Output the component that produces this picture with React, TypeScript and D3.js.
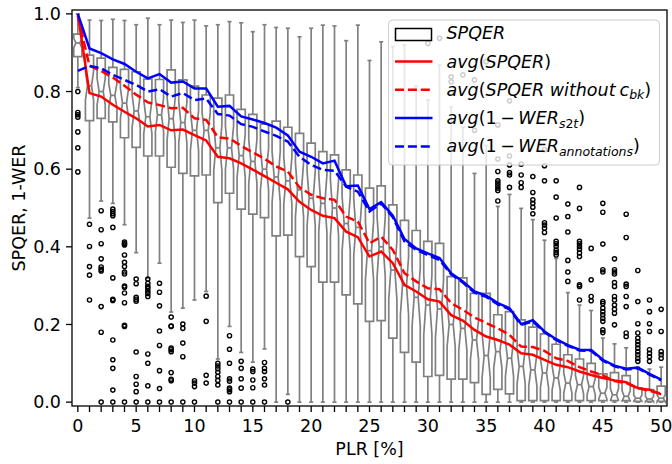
import React from 'react';
import * as d3 from 'd3';

// PLR categories 0..50
const categories: number[] = d3.range(0, 51);

const q3: number[] = [
  0.948, 0.894, 0.886, 0.862, 0.857, 0.851, 0.832, 0.831, 0.856, 0.830,
  0.814, 0.791, 0.783, 0.791, 0.754, 0.741, 0.716, 0.724, 0.708, 0.692,
  0.667, 0.645, 0.637, 0.598, 0.585, 0.551, 0.557, 0.508, 0.468, 0.442,
  0.414, 0.409, 0.323, 0.320, 0.280, 0.280, 0.225, 0.233, 0.212, 0.193,
  0.176, 0.149, 0.122, 0.111, 0.100, 0.073, 0.076, 0.068, 0.037, 0.032,
  0.041,
];
const q1: number[] = [
  0.890, 0.725, 0.731, 0.722, 0.681, 0.656, 0.634, 0.634, 0.605, 0.589,
  0.583, 0.585, 0.514, 0.538, 0.497, 0.484, 0.475, 0.428, 0.430, 0.375,
  0.349, 0.309, 0.309, 0.276, 0.253, 0.208, 0.210, 0.165, 0.128, 0.103,
  0.066, 0.069, 0.059, 0.059, 0.050, 0.020, 0.033, 0.021, 0.004, 0.004,
  0.004, 0.004, 0.004, 0.004, 0.004, 0.004, 0.004, 0.004, 0.002, 0.002,
  0.002,
];
const medians: number[] = [
  0.925, 0.815, 0.800, 0.790, 0.770, 0.750, 0.735, 0.740, 0.730, 0.720,
  0.700, 0.700, 0.655, 0.655, 0.635, 0.620, 0.600, 0.580, 0.570, 0.547,
  0.525, 0.512, 0.500, 0.460, 0.450, 0.390, 0.400, 0.340, 0.300, 0.270,
  0.250, 0.240, 0.200, 0.190, 0.160, 0.120, 0.130, 0.113, 0.092, 0.083,
  0.075, 0.062, 0.049, 0.045, 0.040, 0.023, 0.019, 0.015, 0.010, 0.008,
  0.010,
];
const whiskerLow: number[] = [
  0.810, 0.474, 0.518, 0.512, 0.457, 0.385, 0.319, 0.358, 0.232, 0.242,
  0.263, 0.285, 0.111, 0.195, 0.128, 0.103, 0.137, 0.0, 0.020, 0.0,
  0.0, 0.0, 0.0, 0.0, 0.0, 0.0, 0.0, 0.0, 0.0, 0.0,
  0.0, 0.0, 0.0, 0.0, 0.0, 0.0, 0.0, 0.0, 0.0, 0.0,
  0.0, 0.0, 0.0, 0.0, 0.0, 0.0, 0.0, 0.0, 0.0, 0.0,
  0.0,
];
const whiskerHigh: number[] = [
  1.000, 0.984, 0.983, 0.986, 0.983, 0.972, 0.989, 0.972, 0.984, 0.978,
  0.984, 0.969, 0.972, 0.980, 0.977, 0.954, 0.972, 0.965, 0.963, 0.941,
  0.963, 0.971, 0.969, 0.931, 0.971, 0.880, 0.928, 0.916, 0.920, 0.814,
  0.778, 0.868, 0.760, 0.708, 0.589, 0.661, 0.504, 0.535, 0.499, 0.470,
  0.417, 0.370, 0.282, 0.250, 0.236, 0.165, 0.150, 0.140, 0.090, 0.085,
  0.090,
];
const fliers: number[][] = [
  [0.800, 0.746, 0.740, 0.734, 0.696, 0.655, 0.593],
  [0.458, 0.401, 0.349, 0.327, 0.263],
  [0.493, 0.444, 0.408, 0.369, 0.348, 0.342, 0.338, 0.246, 0.180, 0.0],
  [0.497, 0.491, 0.485, 0.480, 0.450, 0.320, 0.265, 0.262, 0.160, 0.109, 0.087, 0.031, 0.0],
  [0.412, 0.408, 0.405, 0.379, 0.360, 0.349, 0.335, 0.330, 0.299, 0.296, 0.281, 0.256, 0.198, 0.195, 0.0],
  [0.317, 0.305, 0.270, 0.265, 0.260, 0.129, 0.066, 0.046, 0.027, 0.0],
  [0.317, 0.306, 0.298, 0.293, 0.286, 0.280, 0.272, 0.124, 0.100, 0.042, 0.0],
  [0.306, 0.283, 0.248, 0.183, 0.146, 0.081, 0.035, 0.0],
  [0.219, 0.196, 0.195, 0.139, 0.135, 0.130, 0.076, 0.059, 0.055, 0.0],
  [0.201, 0.190, 0.152, 0.117, 0.0],
  [0.055, 0.049, 0.040, 0.0],
  [0.273, 0.208, 0.069, 0.049],
  [0.100, 0.093, 0.086, 0.077, 0.066, 0.056, 0.044, 0.0],
  [0.171, 0.136, 0.100, 0.060, 0.054, 0.036, 0.032, 0.027, 0.0],
  [0.105, 0.087, 0.060, 0.036, 0.0],
  [0.085, 0.079, 0.057, 0.037, 0.0],
  [0.102, 0.087, 0.079, 0.060, 0.044, 0.0],
  [],
  [0.0],
  [], [], [], [], [], [], [], [], [], [], [],
  [0.924],
  [0.937],
  [0.838, 0.825, 0.796],
  [0.843],
  [0.830, 0.700],
  [0.877],
  [0.714, 0.626, 0.594, 0.570, 0.564, 0.557, 0.551, 0.545, 0.518],
  [0.776, 0.634, 0.611, 0.591, 0.585, 0.553],
  [0.613, 0.585, 0.565, 0.553],
  [0.581, 0.540, 0.521, 0.512, 0.502, 0.485],
  [0.650, 0.609, 0.570, 0.462, 0.456, 0.448, 0.437],
  [0.570, 0.528, 0.474, 0.414, 0.408, 0.401, 0.392, 0.385, 0.379],
  [0.510, 0.478, 0.438, 0.365, 0.335, 0.311],
  [0.553, 0.499, 0.414, 0.408, 0.401, 0.394, 0.384, 0.375, 0.302, 0.298, 0.263],
  [0.396, 0.315, 0.272, 0.261],
  [0.512, 0.489, 0.407, 0.341, 0.335, 0.259, 0.254, 0.242, 0.233, 0.225, 0.216, 0.208, 0.186, 0.179],
  [0.369, 0.341, 0.335, 0.330, 0.308, 0.298, 0.272, 0.263, 0.250, 0.239, 0.229, 0.199],
  [0.484, 0.424, 0.304, 0.298, 0.272, 0.246, 0.178, 0.169],
  [0.339, 0.259, 0.202, 0.178, 0.165, 0.156, 0.148, 0.139, 0.130, 0.122, 0.113, 0.105],
  [0.263, 0.233, 0.202, 0.182, 0.135, 0.126, 0.117, 0.105],
  [0.239, 0.182, 0.130, 0.122, 0.113],
];

const avgSpqer: number[] = [
  1.000, 0.796, 0.787, 0.766, 0.748, 0.731, 0.710, 0.714, 0.700, 0.702,
  0.688, 0.674, 0.632, 0.628, 0.615, 0.599, 0.582, 0.565, 0.548, 0.516,
  0.495, 0.480, 0.474, 0.439, 0.425, 0.375, 0.388, 0.358, 0.302, 0.285,
  0.265, 0.259, 0.224, 0.210, 0.186, 0.169, 0.160, 0.148, 0.126, 0.122,
  0.109, 0.096, 0.090, 0.079, 0.070, 0.062, 0.056, 0.051, 0.036, 0.032,
  0.020,
];
const avgSpqerNoCbk: number[] = [
  0.995, 0.866, 0.853, 0.836, 0.815, 0.792, 0.772, 0.765, 0.757, 0.758,
  0.731, 0.727, 0.682, 0.679, 0.660, 0.643, 0.627, 0.607, 0.594, 0.553,
  0.534, 0.525, 0.521, 0.478, 0.465, 0.409, 0.426, 0.392, 0.332, 0.311,
  0.293, 0.291, 0.255, 0.238, 0.218, 0.204, 0.190, 0.173, 0.143, 0.142,
  0.132, 0.113, 0.106, 0.090, 0.079, 0.069, 0.054, 0.049, 0.036, 0.029,
  0.022,
];
const avgWerS2t: number[] = [
  1.000, 0.911, 0.899, 0.883, 0.871, 0.851, 0.834, 0.845, 0.823, 0.826,
  0.808, 0.808, 0.761, 0.763, 0.736, 0.728, 0.719, 0.707, 0.687, 0.645,
  0.632, 0.615, 0.622, 0.556, 0.558, 0.497, 0.515, 0.480, 0.420, 0.396,
  0.383, 0.371, 0.332, 0.311, 0.285, 0.274, 0.255, 0.242, 0.201, 0.211,
  0.182, 0.162, 0.147, 0.135, 0.134, 0.109, 0.094, 0.086, 0.089, 0.073,
  0.058,
];
const avgWerAnnot: number[] = [
  0.853, 0.866, 0.860, 0.843, 0.830, 0.817, 0.800, 0.806, 0.787, 0.796,
  0.778, 0.782, 0.742, 0.738, 0.716, 0.709, 0.697, 0.686, 0.671, 0.632,
  0.611, 0.598, 0.596, 0.555, 0.542, 0.491, 0.512, 0.476, 0.414, 0.392,
  0.379, 0.366, 0.329, 0.308, 0.282, 0.271, 0.252, 0.239, 0.199, 0.208,
  0.180, 0.160, 0.145, 0.133, 0.132, 0.107, 0.092, 0.084, 0.087, 0.071,
  0.056,
];

const xTickLabels: number[] = [0, 5, 10, 15, 20, 25, 30, 35, 40, 45, 50];
const yTicks: number[] = [0.0, 0.2, 0.4, 0.6, 0.8, 1.0];

const FONT = "'DejaVu Sans', sans-serif";
const GRAY = '#808080';

export default function App() {
  const W = 672, H = 464;
  const left = 72, right = 667, top = 10, bottom = 406;
  const x = d3.scaleLinear().domain([-0.5, 50.5]).range([left, right]);
  const y = d3.scaleLinear().domain([-0.01, 1.01]).range([bottom, top]);
  const boxHalf = 0.35, capHalf = 0.175, notchRatio = 0.22;
  const LW = 2.5;

  const lineGen = d3.line<number>().x((_, i) => x(categories[i])).y((v) => y(v));

  const boxes = categories.map((p, i) => {
    const bl = x(p - boxHalf), br = x(p + boxHalf), cl = x(p - capHalf), cr = x(p + capHalf);
    const nh = notchRatio * (q3[i] - q1[i]);
    const pts: [number, number][] = [
      [bl, q1[i]], [br, q1[i]], [br, medians[i] - nh], [cr, medians[i]], [br, medians[i] + nh],
      [br, q3[i]], [bl, q3[i]], [bl, medians[i] + nh], [cl, medians[i]], [bl, medians[i] - nh], [bl, q1[i]],
    ];
    const d = 'M' + pts.map(([px, pv]) => `${px},${y(pv)}`).join('L') + 'Z';
    const cx = x(p);
    return (
      <g key={'b' + i}>
        <line x1={cx} x2={cx} y1={y(q1[i])} y2={y(whiskerLow[i])} stroke={GRAY} strokeWidth={1.7} />
        <line x1={cx} x2={cx} y1={y(q3[i])} y2={y(whiskerHigh[i])} stroke={GRAY} strokeWidth={1.7} />
        <line x1={cl} x2={cr} y1={y(whiskerLow[i])} y2={y(whiskerLow[i])} stroke={GRAY} strokeWidth={1.7} />
        <line x1={cl} x2={cr} y1={y(whiskerHigh[i])} y2={y(whiskerHigh[i])} stroke={GRAY} strokeWidth={1.7} />
        <path d={d} fill="none" stroke={GRAY} strokeWidth={1.7} strokeLinejoin="miter" />
        <line x1={cl} x2={cr} y1={y(medians[i])} y2={y(medians[i])} stroke={GRAY} strokeWidth={1.7} />
      </g>
    );
  });

  const flierMarks = categories.flatMap((p, i) =>
    fliers[i].map((v, j) => (
      <circle key={`f${i}-${j}`} cx={x(p)} cy={y(v)} r={2.1} fill="none" stroke="#000" strokeWidth={1.4} />
    ))
  );

  const dash = '9,3.9';
  const legendRows = [33.2, 61.5, 89.8, 118.1, 146.4];
  const tx = 446.5;
  const LF = 17.5;
  const SF = 12.5;
  const it = { fontStyle: 'italic' as const };

  return (
    <svg width={W} height={H} style={{ position: 'fixed', left: 0, top: 0 }} fontFamily={FONT}>
      <rect x={0} y={0} width={W} height={H} fill="#fff" />
      <defs>
        <clipPath id="plotclip">
          <rect x={left} y={top} width={right - left} height={bottom - top} />
        </clipPath>
      </defs>
      <g clipPath="url(#plotclip)">
        {boxes}
        {flierMarks}
        <path d={lineGen(avgSpqer) || ''} fill="none" stroke="#ff0000" strokeWidth={LW} />
        <path d={lineGen(avgSpqerNoCbk) || ''} fill="none" stroke="#ff0000" strokeWidth={LW} strokeDasharray={dash} />
        <path d={lineGen(avgWerS2t) || ''} fill="none" stroke="#0000ff" strokeWidth={LW} />
        <path d={lineGen(avgWerAnnot) || ''} fill="none" stroke="#0000ff" strokeWidth={LW} strokeDasharray={dash} />
      </g>

      {/* frame */}
      <rect x={left} y={top} width={right - left} height={bottom - top} fill="none" stroke="#000" strokeWidth={1.3} />

      {/* x ticks */}
      {categories.map((c) => (
        <line key={'xt' + c} x1={x(c)} x2={x(c)} y1={bottom} y2={bottom + 6} stroke="#000" strokeWidth={1.3} />
      ))}
      {xTickLabels.map((c) => (
        <text key={'xl' + c} x={x(c)} y={431.5} fontSize={17.5} textAnchor="middle" fill="#000">{c}</text>
      ))}
      {/* y ticks */}
      {yTicks.map((v) => (
        <g key={'yt' + v}>
          <line x1={left - 6} x2={left} y1={y(v)} y2={y(v)} stroke="#000" strokeWidth={1.3} />
          <text x={61} y={y(v) + 6.3} fontSize={17.5} textAnchor="end" fill="#000">{v.toFixed(1)}</text>
        </g>
      ))}
      <text x={(left + right) / 2} y={455} fontSize={17.5} textAnchor="middle" fill="#000">PLR [%]</text>
      <text transform={`translate(24.5, ${(top + bottom) / 2}) rotate(-90)`} fontSize={17.5} textAnchor="middle" fill="#000">SPQER, 1-WER</text>

      {/* legend */}
      <rect x={388.5} y={20} width={271} height={145} rx={4} ry={4} fill="#fff" fillOpacity={0.8} stroke="#cccccc" strokeWidth={1} />
      <rect x={395.5} y={28.5} width={36} height={12} fill="#fff" stroke="#000" strokeWidth={1.5} />
      <line x1={395} x2={432.5} y1={legendRows[1]} y2={legendRows[1]} stroke="#ff0000" strokeWidth={LW} />
      <line x1={395} x2={432.5} y1={legendRows[2]} y2={legendRows[2]} stroke="#ff0000" strokeWidth={LW} strokeDasharray={dash} />
      <line x1={395} x2={432.5} y1={legendRows[3]} y2={legendRows[3]} stroke="#0000ff" strokeWidth={LW} />
      <line x1={395} x2={432.5} y1={legendRows[4]} y2={legendRows[4]} stroke="#0000ff" strokeWidth={LW} strokeDasharray={dash} />

      <text x={tx} y={legendRows[0] + 6} fontSize={LF} fill="#000">
        <tspan {...it}>SPQER</tspan>
      </text>
      <text x={tx} y={legendRows[1] + 6} fontSize={LF} fill="#000">
        <tspan {...it}>avg</tspan>(<tspan {...it}>SPQER</tspan>)
      </text>
      <text x={tx} y={legendRows[2] + 6} fontSize={LF} fill="#000">
        <tspan {...it}>avg</tspan>(<tspan {...it}>SPQER without</tspan><tspan {...it} dx={4}>c</tspan>
        <tspan {...it} fontSize={SF} dy={3.5}>bk</tspan><tspan dy={-3.5}>)</tspan>
      </text>
      <text x={tx} y={legendRows[3] + 6} fontSize={LF} fill="#000">
        <tspan {...it}>avg</tspan>(1<tspan dx={3.5}>−</tspan><tspan {...it} dx={3.5}>WER</tspan>
        <tspan {...it} fontSize={SF} dy={3.5}>s</tspan><tspan fontSize={SF}>2</tspan><tspan {...it} fontSize={SF}>t</tspan><tspan dy={-3.5}>)</tspan>
      </text>
      <text x={tx} y={legendRows[4] + 6} fontSize={LF} fill="#000">
        <tspan {...it}>avg</tspan>(1<tspan dx={3.5}>−</tspan><tspan {...it} dx={3.5}>WER</tspan>
        <tspan {...it} fontSize={SF} dy={3.5}>annotations</tspan><tspan dy={-3.5}>)</tspan>
      </text>
    </svg>
  );
}
